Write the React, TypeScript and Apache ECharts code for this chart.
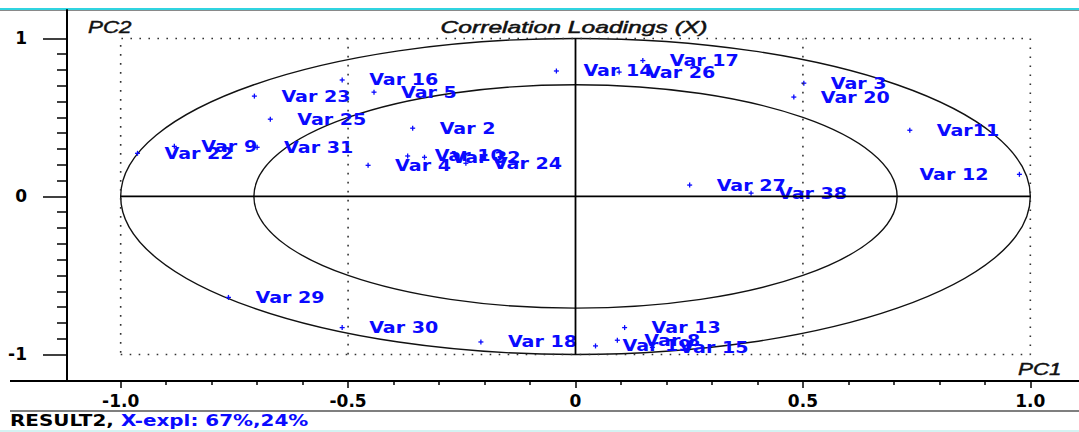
import React, { useEffect, useRef } from 'react';
import * as echarts from 'echarts';

// ---- data ----
const varNames = [
  'Var 23', 'Var 16', 'Var 5', 'Var 25', 'Var 22', 'Var 9', 'Var 31', 'Var 2',
  'Var 4', 'Var 10', 'Var 32', 'Var 24', 'Var 14', 'Var 26', 'Var 17', 'Var 3',
  'Var 20', 'Var11', 'Var 12', 'Var 27', 'Var 38', 'Var 29', 'Var 30', 'Var 18',
  'Var 13', 'Var 19', 'Var 8', 'Var 15',
];
const pc1Values = [
  -0.706, -0.513, -0.443, -0.671, -0.963, -0.882, -0.700, -0.358,
  -0.456, -0.369, -0.332, -0.241, -0.042, 0.096, 0.148, 0.502,
  0.480, 0.735, 0.976, 0.251, 0.386, -0.763, -0.513, -0.208,
  0.108, 0.044, 0.092, 0.169,
];
const pc2Values = [
  0.635, 0.737, 0.660, 0.489, 0.273, 0.317, 0.311, 0.432,
  0.197, 0.256, 0.248, 0.210, 0.794, 0.787, 0.860, 0.717,
  0.629, 0.419, 0.140, 0.072, 0.021, -0.639, -0.830, -0.921,
  -0.830, -0.946, -0.910, -0.955,
];
const labelSide = [
  'right', 'right', 'right', 'right', 'right', 'right', 'right', 'right',
  'right', 'right', 'right', 'right', 'right', 'right', 'right', 'right',
  'right', 'right', 'left', 'right', 'right', 'right', 'right', 'right',
  'right', 'right', 'right', 'right',
];

const xMajorTicks = [-1, -0.5, 0, 0.5, 1];
const xMinorTicks = [-0.9, -0.8, -0.7, -0.6, -0.4, -0.3, -0.2, -0.1, 0.1, 0.2, 0.3, 0.4, 0.6, 0.7, 0.8, 0.9];
const yMajorTicks = [-1, 0, 1];
const yMinorTicks = [-0.9, -0.8, -0.7, -0.6, -0.5, -0.4, -0.3, -0.2, -0.1, 0.1, 0.2, 0.3, 0.4, 0.5, 0.6, 0.7, 0.8, 0.9];
const circleRadii = [1, 0.7071];
const frameBox = [[-1, -1], [1, -1], [1, 1], [-1, 1], [-1, -1]];
const halfLineLeft = [[-0.5, -1], [-0.5, 1]];
const halfLineRight = [[0.5, -1], [0.5, 1]];
const zeroLineH = [[-1, 0], [1, 0]];
const zeroLineV = [[0, -1], [0, 1]];

const titleText = 'Correlation Loadings (X)';
const footerName = 'RESULT2, ';
const footerExpl = 'X-expl: 67%,24%';

const BLUE = '#0a0aff';
const X_MIN = -1.118;
const X_MAX = 1.107;
const Y_MIN = -1.168;
const Y_MAX = 1.18;

export default function App() {
  const ref = useRef<HTMLDivElement>(null);

  useEffect(() => {
    if (!ref.current) return;
    const chart = echarts.init(ref.current, null, { renderer: 'svg' });

    const dotted = { color: '#333', width: 1.6, type: [1.6, 7.4] as any };

    const option: any = {
      animation: false,
      backgroundColor: '#fff',
      grid: { left: 67, right: 0, top: 10, bottom: 51 },
      xAxis: [
        {
          type: 'value', min: X_MIN, max: X_MAX, position: 'bottom',
          axisLine: { show: true, onZero: false, lineStyle: { color: '#000', width: 2 } },
          axisTick: { show: true, customValues: xMajorTicks, length: 7, lineStyle: { color: '#000', width: 1.5 } },
          axisLabel: {
            show: true, customValues: xMajorTicks, margin: 11,
            formatter: (v: number) => (v === 0 ? '0' : v.toFixed(1)),
            color: '#000', fontWeight: 'bold', fontSize: 17, fontFamily: 'DejaVu Sans',
          },
          splitLine: { show: false },
        },
        {
          type: 'value', min: X_MIN, max: X_MAX, position: 'bottom',
          axisLine: { show: false, onZero: false },
          axisTick: { show: true, customValues: xMinorTicks, length: 4, lineStyle: { color: '#000', width: 1.5 } },
          axisLabel: { show: false },
          splitLine: { show: false },
        },
      ],
      yAxis: [
        {
          type: 'value', min: Y_MIN, max: Y_MAX, position: 'left',
          axisLine: { show: true, onZero: false, lineStyle: { color: '#000', width: 2 } },
          axisTick: { show: true, customValues: yMajorTicks, length: 24, lineStyle: { color: '#000', width: 1.5 } },
          axisLabel: {
            show: true, customValues: yMajorTicks, margin: 40,
            formatter: (v: number) => String(Math.round(v)),
            color: '#000', fontWeight: 'bold', fontSize: 17, fontFamily: 'DejaVu Sans',
          },
          splitLine: { show: false },
        },
        {
          type: 'value', min: Y_MIN, max: Y_MAX, position: 'left',
          axisLine: { show: false, onZero: false },
          axisTick: { show: true, customValues: yMinorTicks, length: 10, lineStyle: { color: '#000', width: 1.5 } },
          axisLabel: { show: false },
          splitLine: { show: false },
        },
      ],
      series: [
        {
          type: 'custom', name: 'circles', silent: true,
          data: circleRadii.map((r) => [0, 0, r]),
          renderItem: (params: any, api: any) => {
            const c = api.coord([api.value(0), api.value(1)]);
            const s = api.size([api.value(2), api.value(2)]);
            return {
              type: 'ellipse',
              shape: { cx: c[0], cy: c[1], rx: s[0], ry: s[1] },
              style: { fill: 'none', stroke: '#111', lineWidth: 1.4 },
            };
          },
        },
        { type: 'line', data: frameBox, symbol: 'none', silent: true, lineStyle: dotted },
        { type: 'line', data: halfLineLeft, symbol: 'none', silent: true, lineStyle: dotted },
        { type: 'line', data: halfLineRight, symbol: 'none', silent: true, lineStyle: dotted },
        { type: 'line', data: zeroLineH, symbol: 'none', silent: true, lineStyle: { color: '#000', width: 1.8 } },
        { type: 'line', data: zeroLineV, symbol: 'none', silent: true, lineStyle: { color: '#000', width: 1.8 } },
        {
          type: 'custom', name: 'loadings',
          data: pc1Values.map((x, i) => [x, pc2Values[i]]),
          renderItem: (params: any, api: any) => {
            const p = api.coord([api.value(0), api.value(1)]);
            const i = params.dataIndex;
            const left = labelSide[i] === 'left';
            return {
              type: 'group',
              children: [
                { type: 'line', shape: { x1: p[0] - 2.5, y1: p[1], x2: p[0] + 2.5, y2: p[1] }, style: { stroke: BLUE, lineWidth: 1.3 } },
                { type: 'line', shape: { x1: p[0], y1: p[1] - 2.5, x2: p[0], y2: p[1] + 2.5 }, style: { stroke: BLUE, lineWidth: 1.3 } },
                {
                  type: 'text',
                  x: left ? p[0] - 31 : p[0] + 27,
                  y: p[1],
                  scaleX: 1.19,
                  style: {
                    text: varNames[i], fill: BLUE,
                    font: 'bold 16px "DejaVu Sans"',
                    align: left ? 'right' : 'left', verticalAlign: 'middle',
                  },
                },
              ],
            };
          },
        },
      ],
      graphic: [
        { type: 'rect', shape: { x: 0, y: 8, width: 1079, height: 2 }, style: { fill: '#30d4e0' }, silent: true },
        { type: 'rect', shape: { x: 0, y: 10, width: 1079, height: 1 }, style: { fill: '#8a8a8a' }, silent: true },
        { type: 'line', shape: { x1: 10, y1: 381, x2: 67, y2: 381 }, style: { stroke: '#000', lineWidth: 2 }, silent: true },
        { type: 'line', shape: { x1: 10, y1: 411, x2: 1079, y2: 411 }, style: { stroke: '#555', lineWidth: 1.5 }, silent: true },
        { type: 'rect', shape: { x: 0, y: 430, width: 1079, height: 2 }, style: { fill: '#d4f2f2' }, silent: true },
        {
          type: 'text', x: 574, y: 27, scaleX: 1.45,
          style: { text: titleText, font: 'italic 17px "Liberation Sans"', fill: '#111', stroke: '#111', lineWidth: 0.5, align: 'center', verticalAlign: 'middle' },
        },
        {
          type: 'text', x: 88, y: 27, scaleX: 1.4,
          style: { text: 'PC2', font: 'italic 16px "Liberation Sans"', fill: '#111', stroke: '#111', lineWidth: 0.4, align: 'left', verticalAlign: 'middle' },
        },
        {
          type: 'text', x: 1018, y: 369, scaleX: 1.4,
          style: { text: 'PC1', font: 'italic 16px "Liberation Sans"', fill: '#111', stroke: '#111', lineWidth: 0.4, align: 'left', verticalAlign: 'middle' },
        },
        {
          type: 'text', x: 10, y: 421, scaleX: 1.33,
          style: {
            text: '{a|' + footerName + '}{b|' + footerExpl + '}',
            verticalAlign: 'middle', align: 'left',
            rich: {
              a: { fill: '#000', fontSize: 15, fontWeight: 'bold', fontFamily: 'DejaVu Sans' },
              b: { fill: BLUE, fontSize: 15, fontWeight: 'bold', fontFamily: 'DejaVu Sans' },
            },
          },
        },
      ],
    };

    chart.setOption(option);
    return () => chart.dispose();
  }, []);

  return (
    <div
      ref={ref}
      style={{ position: 'absolute', left: 0, top: 0, width: 1079, height: 432, background: '#fff' }}
    />
  );
}
